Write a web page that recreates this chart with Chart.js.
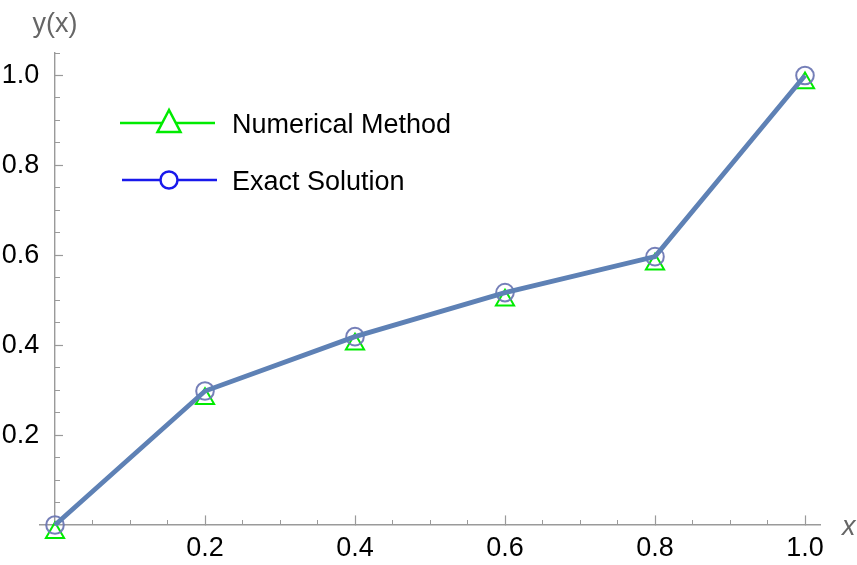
<!DOCTYPE html>
<html lang="en">
<head>
<meta charset="UTF-8">
<title>Numerical Method vs Exact Solution</title>
<script src="https://cdn.jsdelivr.net/npm/chart.js"></script>
<style>
    html, body {
        margin: 0;
        padding: 0;
        background: #fff;
    }
    .chart-box {
        position: relative;
        width: 857px;
        height: 565px;
    }
</style>
</head>
<body>
<div class="chart-box"><canvas id="plot"></canvas></div>

<script>
    // values
    const xValues = [0, 0.2, 0.4, 0.6, 0.8, 1.0];
    const exactValues = [0, 0.298, 0.419, 0.517, 0.597, 1.0];
    const numericalValues = [-0.017, 0.281, 0.402, 0.5, 0.58, 0.983];
    const seriesNames = ['Numerical Method', 'Exact Solution'];

    const xMajorTicks = [0.2, 0.4, 0.6, 0.8, 1.0];
    const xTickLabels = ['0.2', '0.4', '0.6', '0.8', '1.0'];
    const xMinorTicks = [0.05, 0.1, 0.15, 0.25, 0.3, 0.35, 0.45, 0.5, 0.55, 0.65, 0.7, 0.75, 0.85, 0.9, 0.95];
    const yMajorTicks = [0.2, 0.4, 0.6, 0.8, 1.0];
    const yTickLabels = ['0.2', '0.4', '0.6', '0.8', '1.0'];
    const yMinorTicks = [0.05, 0.1, 0.15, 0.25, 0.3, 0.35, 0.45, 0.5, 0.55, 0.65, 0.7, 0.75, 0.85, 0.9, 0.95, 1.05];

    const FONT = 'Arial, "Liberation Sans", sans-serif';
    const axisGrey = '#9a9a9a';
    const lineBlue = '#5E81B5';
    const green = 'rgb(0, 235, 0)';
    const blue = 'rgb(25, 25, 235)';

    function pts(ys) {
        return xValues.map((x, i) => ({ x: x, y: ys[i] }));
    }

    // axis labels and the legend
    const overlay = {
        id: 'overlay',
        afterDraw(chart) {
            const ctx = chart.ctx;
            const xs = chart.scales.x;
            const ys = chart.scales.y;
            const x0 = xs.getPixelForValue(0);
            const y0 = ys.getPixelForValue(0);
            ctx.save();

            ctx.fillStyle = '#666';
            ctx.font = '27px ' + FONT;
            ctx.textAlign = 'center';
            ctx.textBaseline = 'alphabetic';
            ctx.fillText('y(x)', x0, ys.top - 21);
            ctx.font = 'italic 27px ' + FONT;
            ctx.textAlign = 'left';
            ctx.fillText('x', xs.right + 22, y0 + 10);

            // legend
            const lx1 = x0 + 65, lx2 = x0 + 160, mx = x0 + 114, tx = x0 + 177;
            const r1 = ys.top + 70, r2 = ys.top + 127;
            ctx.lineWidth = 2.5;

            ctx.strokeStyle = green;
            ctx.beginPath();
            ctx.moveTo(lx1, r1);
            ctx.lineTo(lx2, r1);
            ctx.stroke();
            ctx.beginPath();
            ctx.moveTo(mx, r1 - 13);
            ctx.lineTo(mx - 11.5, r1 + 9);
            ctx.lineTo(mx + 11.5, r1 + 9);
            ctx.closePath();
            ctx.fillStyle = '#fff';
            ctx.fill();
            ctx.stroke();

            ctx.strokeStyle = blue;
            ctx.beginPath();
            ctx.moveTo(lx1 + 2, r2);
            ctx.lineTo(lx2 + 2, r2);
            ctx.stroke();
            ctx.beginPath();
            ctx.arc(mx, r2, 8.5, 0, Math.PI * 2);
            ctx.fill();
            ctx.stroke();

            ctx.fillStyle = '#000';
            ctx.font = '27px ' + FONT;
            ctx.fillText(seriesNames[0], tx, r1 + 10);
            ctx.fillText(seriesNames[1], tx, r2 + 10);
            ctx.restore();
        }
    };

    const tickFont = { family: FONT, size: 27 };

    new Chart(document.getElementById('plot'), {
        type: 'scatter',
        data: {
            datasets: [
                {
                    label: 'line',
                    data: pts(exactValues),
                    showLine: true,
                    borderColor: lineBlue,
                    borderWidth: 4.8,
                    pointRadius: 0,
                    order: 0,
                    clip: false
                },
                {
                    label: seriesNames[1],
                    data: pts(exactValues),
                    showLine: false,
                    pointStyle: 'circle',
                    pointRadius: 8.8,
                    pointBorderWidth: 2,
                    pointBorderColor: 'rgba(110, 120, 180, 0.95)',
                    pointBackgroundColor: 'rgba(0,0,0,0)',
                    order: 1,
                    clip: false
                },
                {
                    label: seriesNames[0],
                    data: pts(numericalValues),
                    showLine: false,
                    pointStyle: 'triangle',
                    pointRadius: 10.5,
                    pointBorderWidth: 2,
                    pointBorderColor: green,
                    pointBackgroundColor: 'rgba(0,0,0,0)',
                    order: 2,
                    clip: false
                }
            ]
        },
        options: {
            responsive: true,
            maintainAspectRatio: false,
            animation: false,
            events: [],
            layout: { padding: { left: 40, right: 37, top: 53, bottom: 40 } },
            plugins: {
                legend: { display: false },
                tooltip: { enabled: false }
            },
            scales: {
                x: {
                    type: 'linear',
                    position: { y: 0 },
                    min: -0.02,
                    max: 1.02,
                    afterBuildTicks: s => { s.ticks = xMajorTicks.map(v => ({ value: v })); },
                    ticks: {
                        callback: (v, i) => xTickLabels[i],
                        font: tickFont,
                        color: '#000',
                        padding: 17,
                        maxRotation: 0,
                        autoSkip: false
                    },
                    grid: { drawOnChartArea: false, tickLength: -10, tickColor: axisGrey, tickWidth: 1.2 },
                    border: { display: true, color: axisGrey, width: 1.4 }
                },
                xMinor: {
                    type: 'linear',
                    axis: 'x',
                    position: { y: 0 },
                    min: -0.02,
                    max: 1.02,
                    afterBuildTicks: s => { s.ticks = xMinorTicks.map(v => ({ value: v })); },
                    ticks: { display: false },
                    grid: { drawOnChartArea: false, tickLength: -5, tickColor: axisGrey, tickWidth: 1 },
                    border: { display: false }
                },
                y: {
                    type: 'linear',
                    position: { x: 0 },
                    min: 0,
                    max: 1.05,
                    afterBuildTicks: s => { s.ticks = yMajorTicks.map(v => ({ value: v })); },
                    ticks: { display: false },
                    grid: { drawOnChartArea: false, tickLength: -9, tickColor: axisGrey, tickWidth: 1.2 },
                    border: { display: true, color: axisGrey, width: 1.4 }
                },
                // tick labels sit a little left of the axis line
                yLabels: {
                    type: 'linear',
                    axis: 'y',
                    position: { x: -0.021 },
                    min: 0,
                    max: 1.05,
                    afterBuildTicks: s => { s.ticks = yMajorTicks.map(v => ({ value: v })); },
                    ticks: {
                        callback: (v, i) => yTickLabels[i],
                        font: tickFont,
                        color: '#000',
                        padding: 0
                    },
                    grid: { display: false, drawTicks: false },
                    border: { display: false }
                },
                yMinor: {
                    type: 'linear',
                    axis: 'y',
                    position: { x: 0 },
                    min: 0,
                    max: 1.05,
                    afterBuildTicks: s => { s.ticks = yMinorTicks.map(v => ({ value: v })); },
                    ticks: { display: false },
                    grid: { drawOnChartArea: false, tickLength: -5, tickColor: axisGrey, tickWidth: 1 },
                    border: { display: false }
                }
            }
        },
        plugins: [overlay]
    });
</script>
</body>
</html>
